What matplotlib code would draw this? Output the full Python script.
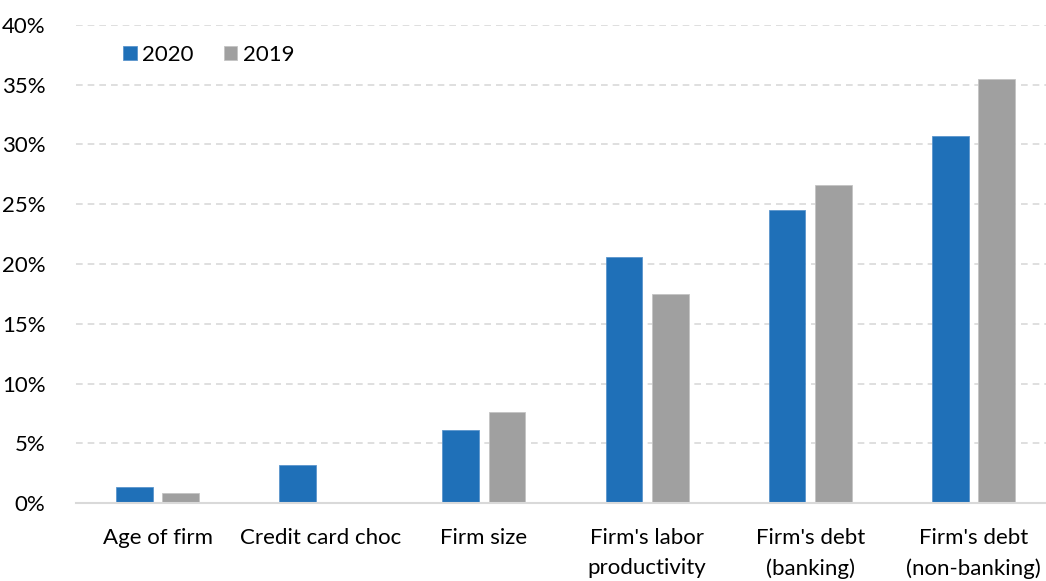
import matplotlib.pyplot as plt
from matplotlib.ticker import FuncFormatter
import numpy as np

categories = ["Age of firm", "Credit card choc", "Firm size",
              "Firm's labor\nproductivity", "Firm's debt\n(banking)",
              "Firm's debt\n(non-banking)"]
vals_2020 = [1.3, 3.2, 6.1, 20.6, 24.5, 30.7]
vals_2019 = [0.8, 0.0, 7.6, 17.5, 26.6, 35.5]

blue = "#1f70b8"
grey = "#a0a0a0"

plt.rcParams['font.family'] = ['Lato', 'DejaVu Sans']

fig = plt.figure(figsize=(10.46, 5.81), dpi=100)
ax = fig.add_axes([76 / 1046, 78 / 581, 979 / 1046, 478 / 581])

x = np.arange(len(categories))
w = 0.225
off = 0.142
ax.bar(x - off, vals_2020, w, color=blue, edgecolor="#5b95cc", linewidth=0.6,
       label="2020", zorder=3)
ax.bar(x + off, vals_2019, w, color=grey, edgecolor="#c4c4c4", linewidth=0.6,
       label="2019", zorder=3)

ax.set_xlim(-0.5, len(categories) - 0.5)
ax.set_ylim(0, 40)
ax.set_yticks(range(0, 41, 5))
ax.yaxis.set_major_formatter(FuncFormatter(lambda v, p: f"{v:.0f}%"))
ax.set_xticks(x)
ax.set_xticklabels(categories, linespacing=1.6)

ax.grid(axis="y", color="#d9d9d9", linestyle=(0, (4, 3)), linewidth=1.2, zorder=0)
ax.set_axisbelow(True)
for s in ["top", "right", "left"]:
    ax.spines[s].set_visible(False)
ax.spines["bottom"].set_color("#d9d9d9")
ax.spines["bottom"].set_linewidth(1.5)
ax.spines["bottom"].set_zorder(4)
ax.tick_params(axis="both", length=0, labelsize=16, colors="black")
ax.tick_params(axis="x", pad=18)
ax.tick_params(axis="y", pad=22)

ax.legend(loc="upper left", bbox_to_anchor=(0.028, 1.0), ncol=2, frameon=False,
          fontsize=16, handlelength=0.6, handleheight=0.6, handletextpad=0.25,
          columnspacing=1.35)

fig.savefig("out.png", dpi=100)
